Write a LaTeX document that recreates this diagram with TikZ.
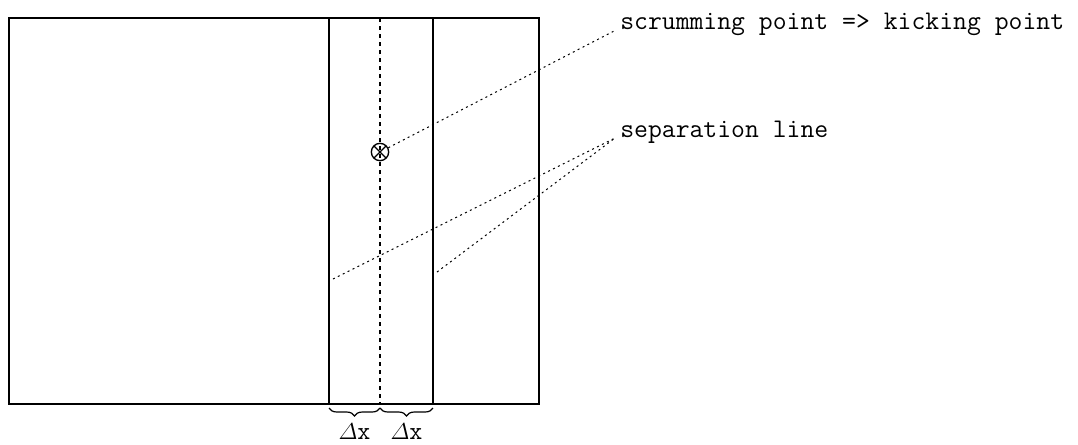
\documentclass[tikz,border=0pt]{standalone}
\usepackage{amsmath}
\usepackage{fontspec}
\usetikzlibrary{positioning, decorations.pathreplacing, calc}

\begin{document}
\begin{tikzpicture}[
    x=0.75pt, y=-0.75pt,
    field/.style={draw, line width=1.1pt},
    centerline/.style={draw, line width=0.8pt, dash pattern=on 3pt off 3pt},
    leader/.style={draw, line width=0.75pt, dash pattern=on 1.5pt off 2.6pt},
    tag/.style={font=\ttfamily\fontsize{20.2}{22}\selectfont, inner sep=0pt, anchor=base west},
    kickmark/.style={circle, draw, line width=1pt, minimum size=13pt, inner sep=0pt,
        path picture={\draw[line width=1pt] (path picture bounding box.north west) -- (path picture bounding box.south east)
            (path picture bounding box.north east) -- (path picture bounding box.south west);}},
    widthbrace/.style={decorate, decoration={brace, mirror, amplitude=6pt}, line width=0.9pt},
    dxlabel/.style={font=\ttfamily\fontsize{19}{20}\selectfont, inner sep=0pt, anchor=base}
]
\useasboundingbox (0,0) rectangle (1078,444);

% the field and the strip
\coordinate (nw) at (9,18);
\coordinate (se) at (539,404);
\draw[field] (nw) rectangle (se);
\draw[field] (329,18) -- (329,404);
\draw[field] (433,18) -- (433,404);
\draw[centerline] (380,18) -- (380,404);

% scrumming point
\node[kickmark] (kick) at (380,152) {};

% labels
\node[tag] (scrumtext) at (620,29) {scrumming point => kicking point};
\node[tag] (septext) at (620,137) {separation line};
\coordinate (scrumtip) at (616,30);
\coordinate (septip) at (615,138);
\coordinate (sepa) at (333,279);
\coordinate (sepb) at (437,272);

% leaders
\draw[leader] (kick) -- (scrumtip);
\draw[leader] (sepa) -- (septip);
\draw[leader] (sepb) -- (septip);

% braces
\coordinate (bl) at (329,408);
\coordinate (bm) at (380,408);
\coordinate (br) at (433,408);
\draw[widthbrace] (bl) -- (bm) coordinate[midway] (tipa);
\draw[widthbrace] (bm) -- (br) coordinate[midway] (tipb);
\node[dxlabel] (dxa) at ($(tipa)+(0,31)$) {$\varDelta$x};
\node[dxlabel] (dxb) at ($(tipb)+(0,31)$) {$\varDelta$x};

\end{tikzpicture}
\end{document}
